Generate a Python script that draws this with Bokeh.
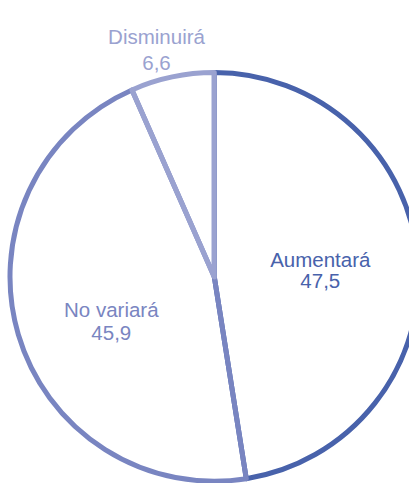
import numpy as np
from bokeh.plotting import figure
from bokeh.models import Range1d
from bokeh.core.properties import value
from bokeh.embed import file_html
from bokeh.resources import INLINE

categories = ["Aumentará", "No variará", "Disminuirá"]
values = [47.5, 45.9, 6.6]
value_labels = ["47,5", "45,9", "6,6"]
colors = ["#4862ab", "#7985c1", "#9aa2d0"]

W, H = 409, 483
p = figure(width=W, height=H, output_backend="svg", toolbar_location=None,
           x_range=Range1d(0, W), y_range=Range1d(0, H), min_border=0)
p.axis.visible = False
p.grid.visible = False
p.outline_line_color = None
p.background_fill_color = "white"
p.border_fill_color = "white"

cx, cy, r = 213.8, H - 276.4, 204.3

frac = np.array(values) / np.sum(values)
cum = np.concatenate([[0], np.cumsum(frac)])
start = np.pi / 2 - cum[:-1] * 2 * np.pi
end = np.pi / 2 - cum[1:] * 2 * np.pi

for i in range(len(values)):
    p.wedge(x=cx, y=cy, radius=r, start_angle=start[i], end_angle=end[i],
            direction="clock", fill_color="white", fill_alpha=0,
            line_color=colors[i], line_width=5, line_join="round")

# label layout: (center x, baseline of name, baseline of value) in pixels from top
label_pos = [(319.8, 258.8, 280.4), (110.8, 309.0, 332.6), (156.0, 36.4, 62.0)]
lx = [pp[0] for pp in label_pos]
ly1 = [H - pp[1] for pp in label_pos]
ly2 = [H - pp[2] for pp in label_pos]
font = value("Liberation Sans")
p.text(x=lx, y=ly1, text=categories, text_color=colors, text_align="center",
       text_baseline="alphabetic", text_font=font, text_font_size="20.5px")
p.text(x=lx, y=ly2, text=value_labels, text_color=colors, text_align="center",
       text_baseline="alphabetic", text_font=font, text_font_size="20.5px")

open("out.html", "w").write(file_html(p, INLINE))
